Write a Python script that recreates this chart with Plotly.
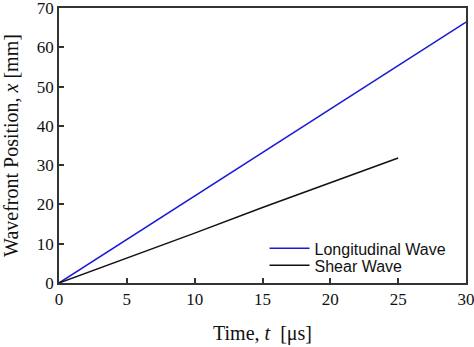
import plotly.graph_objects as go

# Data
time_long = [0, 5, 10, 15, 20, 25, 30]
pos_long = [0, 11.1, 22.2, 33.2, 44.3, 55.4, 66.4]
time_shear = [0, 5, 10, 15, 20, 25]
pos_shear = [0, 6.3, 12.7, 19.2, 25.5, 31.8]

x_ticks = [0, 5, 10, 15, 20, 25, 30]
y_ticks = [0, 10, 20, 30, 40, 50, 60, 70]

fig = go.Figure()
fig.add_trace(go.Scatter(x=time_long, y=pos_long, mode="lines",
                         line=dict(color="#1a1ad6", width=1.5),
                         name="Longitudinal Wave", legend="legend", showlegend=True))
fig.add_trace(go.Scatter(x=time_shear, y=pos_shear, mode="lines",
                         line=dict(color="#111111", width=1.5),
                         name="Shear Wave", legend="legend2", showlegend=True))

serif = "Liberation Serif, Times New Roman, serif"
axis_common = dict(showgrid=False, zeroline=False, showline=True, linecolor="#333333",
                   linewidth=1.5, mirror=True, ticks="inside", ticklen=5,
                   tickcolor="#333333", tickwidth=1.5, ticklabeloverflow="allow",
                   automargin=False,
                   tickfont=dict(family=serif, size=17, color="#111111"))

legend_common = dict(xanchor="left", yanchor="middle", bgcolor="rgba(0,0,0,0)",
                     itemwidth=40,
                     font=dict(family="Liberation Sans, Arial, sans-serif", size=16, color="#111111"))

fig.update_layout(
    width=474, height=347,
    margin=dict(l=59, r=8, t=8, b=64),
    paper_bgcolor="white", plot_bgcolor="white",
    showlegend=True,
    xaxis=dict(range=[0, 30], tickvals=x_ticks,
               title=dict(text="Time, <i>t</i>\u00a0\u00a0[μs]", standoff=18,
                          font=dict(family=serif, size=20, color="#111111")),
               **axis_common),
    yaxis=dict(range=[0, 70], tickvals=y_ticks,
               title=dict(text="Wavefront Position, <i>x</i> [mm]", standoff=13,
                          font=dict(family=serif, size=20, color="#111111")),
               **axis_common),
    legend=dict(x=0.505, y=0.126, **legend_common),
    legend2=dict(x=0.505, y=0.064, **legend_common),
)

fig.write_html("out.html")
